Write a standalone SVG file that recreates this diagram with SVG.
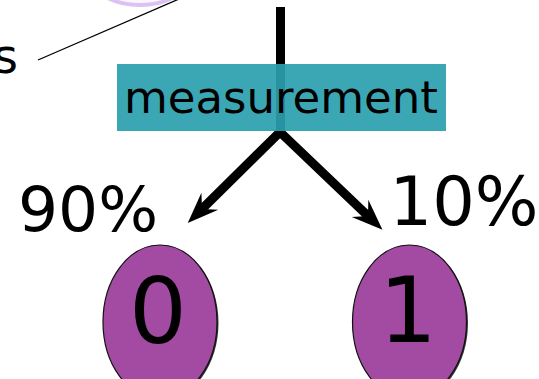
<svg xmlns="http://www.w3.org/2000/svg" width="539" height="379" viewBox="0 0 539 379">
<style>
text{font-family:"DejaVu Sans","Liberation Sans",sans-serif;fill:#000}
.state{fill:#a34aa3;stroke:#111;stroke-width:1.2}
.shadow{fill:#000;opacity:0.8}
.thick{fill:none;stroke:#000;stroke-width:9}
</style>
<defs>
<marker id="head" markerUnits="userSpaceOnUse" viewBox="-32 -13 34 26" markerWidth="34" markerHeight="26" refX="-20" refY="0" orient="auto-start-reverse">
<path d="M0,0 L-31,-12 L-20,0 L-31,12 Z" fill="#000"/>
</marker>
</defs>
<g id="top-node">
<ellipse cx="140" cy="-25" rx="50" ry="30" fill="#fbf6fe" stroke="#dcc2f2" stroke-width="4"/>
</g>
<g id="connectors">
<line x1="38" y1="60" x2="179" y2="-1" stroke="#000" stroke-width="1.3"/>
<line class="thick" x1="280.5" y1="7" x2="280.5" y2="132"/>
<path class="thick" d="M202,209 L280,132 L368,216" marker-start="url(#head)" marker-end="url(#head)"/>
</g>
<g id="label-s">
<text x="18" y="73" font-size="48" text-anchor="end">s</text>
</g>
<g id="measurement">
<rect x="117" y="64" width="329" height="67" fill="#2aa0ae" opacity="0.92"/>
<text x="281" y="113" font-size="45" text-anchor="middle">measurement</text>
</g>
<g id="p90">
<text x="88" y="231" font-size="63" text-anchor="middle">90%</text>
</g>
<g id="p10">
<text x="464" y="225" font-size="67" text-anchor="middle">10%</text>
</g>
<g id="state0">
<ellipse class="shadow" cx="161.5" cy="323" rx="57" ry="77"/>
<ellipse class="state" cx="160" cy="322" rx="57" ry="77"/>
<text x="158" y="343" font-size="91" text-anchor="middle">0</text>
</g>
<g id="state1">
<ellipse class="shadow" cx="411" cy="323" rx="57" ry="77"/>
<ellipse class="state" cx="409.5" cy="322" rx="57" ry="77"/>
<text x="408" y="342" font-size="91" text-anchor="middle">1</text>
</g>
</svg>
